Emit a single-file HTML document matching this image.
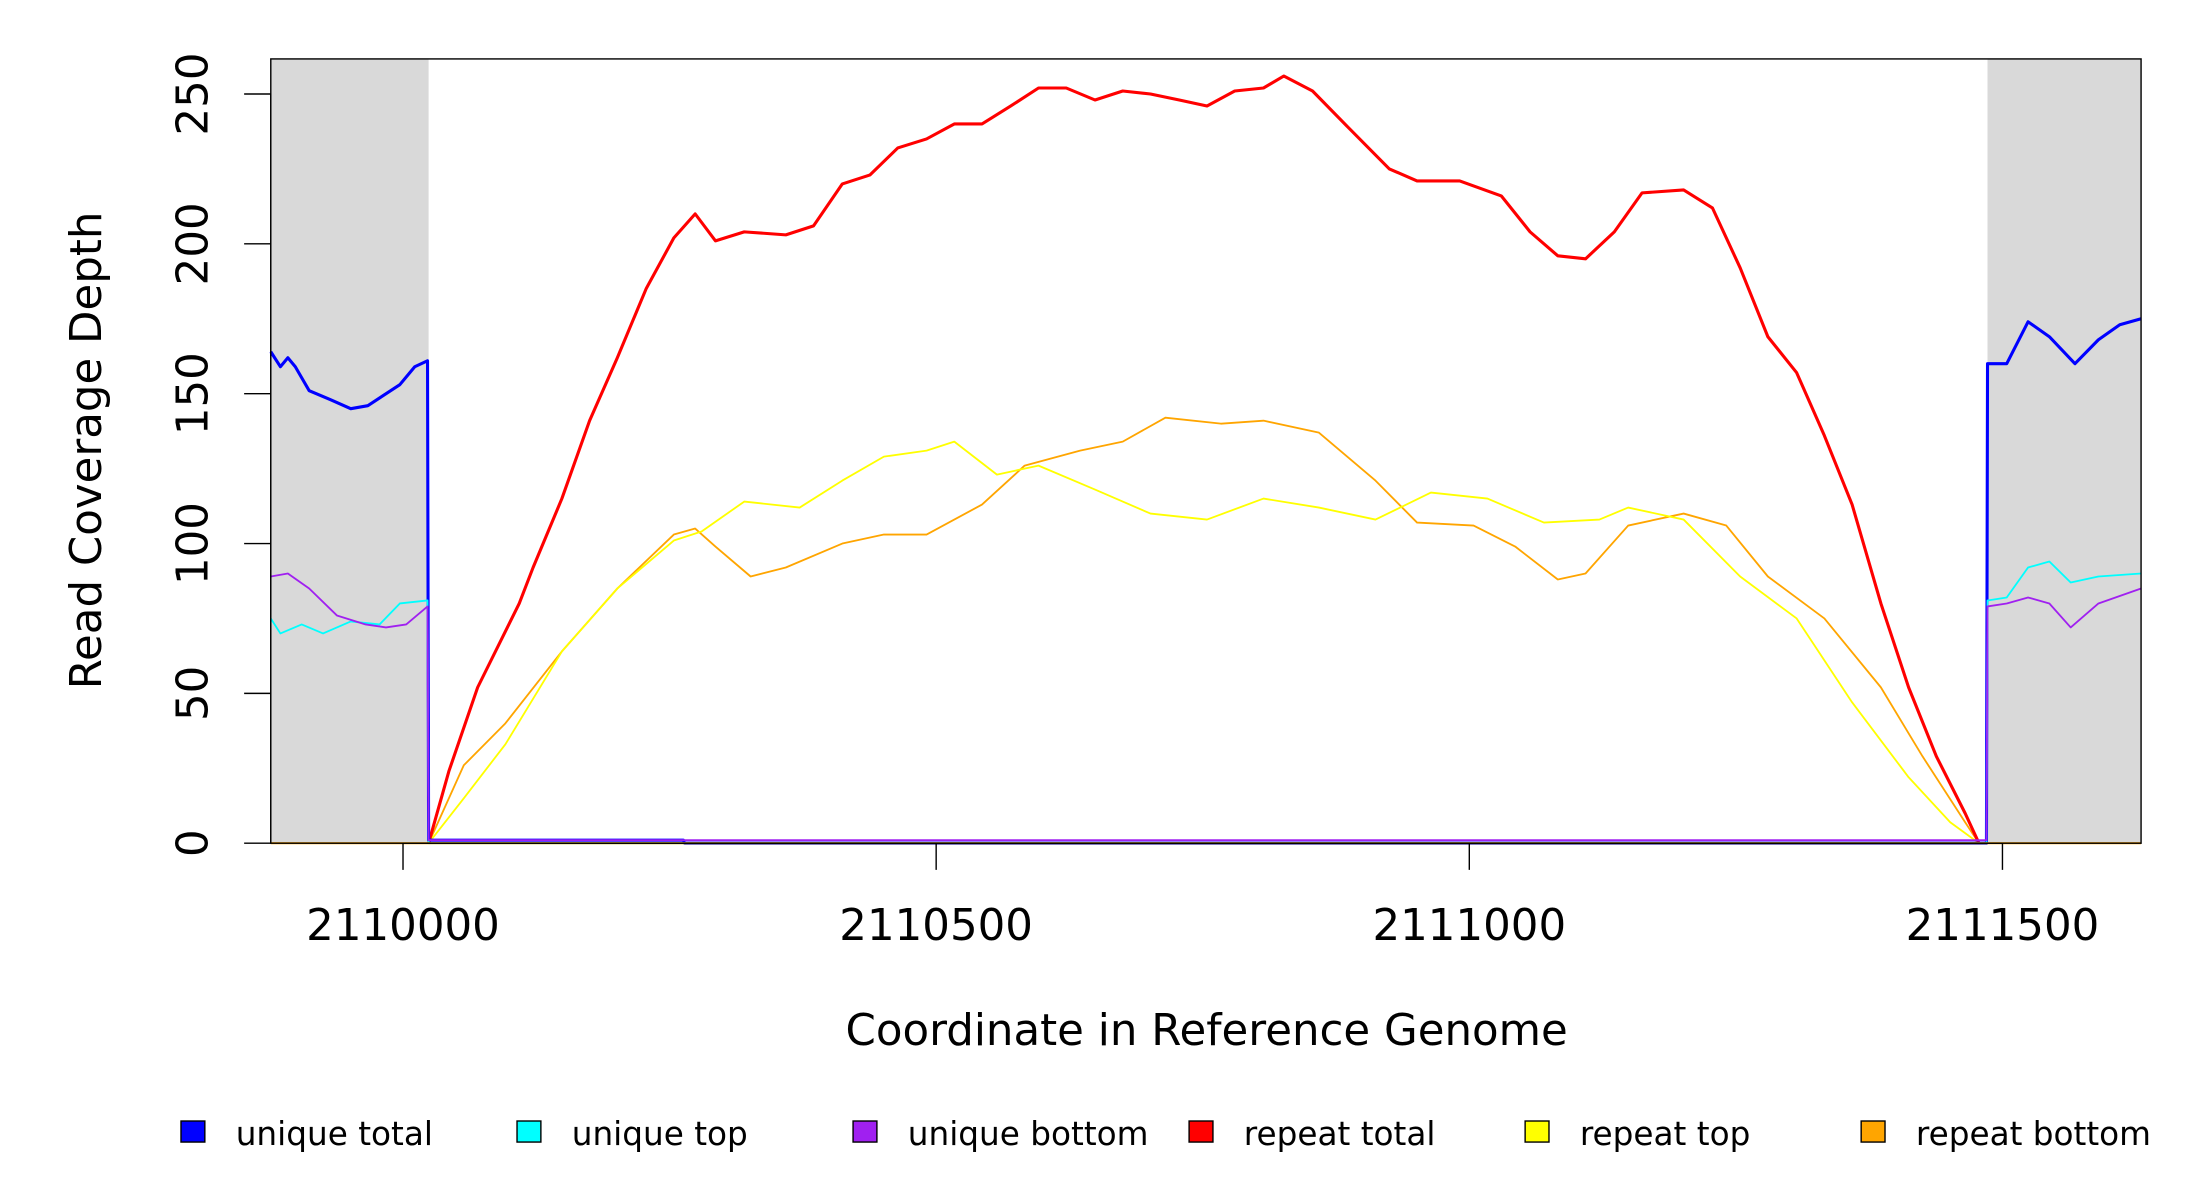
<!DOCTYPE html>
<html><head><meta charset="utf-8"><style>
html,body{margin:0;padding:0;background:#fff;}
svg{display:block;font-family:"DejaVu Sans","Liberation Sans",sans-serif;}
</style></head><body>
<svg id="chart" width="2200" height="1200" viewBox="0 0 1568 855.3" preserveAspectRatio="none" xmlns="http://www.w3.org/2000/svg">
<g id="bg"></g>
<g id="series"></g>
<rect x="193" y="42" width="1333" height="559" fill="none" stroke="#000" stroke-width="1"/>
<g id="axes"></g>
<text transform="translate(72,321) rotate(-90)" text-anchor="middle" font-size="31">Read Coverage Depth</text>
<text x="860" y="745" text-anchor="middle" font-size="31">Coordinate in Reference Genome</text>
<g id="legend"></g>
</svg>
<script>
const NS="http://www.w3.org/2000/svg";
const xTicks=[2110000,2110500,2111000,2111500];
const yTicks=[0,50,100,150,200,250];
const shaded=[[2109876,2110024],[2111486,2111630]];
const legendLabels=["unique total","unique top","unique bottom","repeat total","repeat top","repeat bottom"];
const legendColors=["#0000ff","#00ffff","#a020f0","#ff0000","#ffff00","#ffa500"];
// offsets from 2110000
const redX=[24,43,70,109,122,149,175,201,228,254,274,293,320,359,385,412,438,464,491,517,543,570,596,622,649,675,701,728,754,780,807,826,853,886,925,951,991,1030,1057,1083,1109,1136,1162,1201,1228,1254,1280,1307,1333,1359,1386,1412,1438,1465,1478];
const redY=[0,24,52,80,92,115,141,162,185,202,210,201,204,203,206,220,223,232,235,240,240,246,252,252,248,251,250,248,246,251,252,256,251,239,225,221,221,216,204,196,195,204,217,218,212,192,169,157,136,113,80,52,29,10,0];
const yelX=[24,57,96,149,201,254,280,320,372,412,451,491,517,557,596,649,701,754,807,859,912,964,1017,1070,1122,1149,1201,1254,1307,1359,1412,1451,1478];
const yelY=[0,15,33,64,85,101,104,114,112,121,129,131,134,123,126,118,110,108,115,112,108,117,115,107,108,112,108,89,75,47,22,7,0];
const orX=[24,57,96,149,201,254,274,293,326,359,412,451,491,543,583,635,675,715,767,807,859,912,951,1004,1043,1083,1109,1149,1201,1241,1280,1333,1386,1425,1465,1478];
const orY=[0,26,40,64,85,103,105,99,89,92,100,103,103,113,126,131,134,142,140,141,137,121,107,106,99,88,90,106,110,106,89,75,52,29,7,0];
const blueX=[-124,-115,-108,-101,-88,-68,-49,-33,-3,11,23,24,263,264,1485,1486,1504,1524,1544,1568,1590,1610,1630];
const blueY=[164,159,162,159,151,148,145,146,153,159,161,1,1,0,0,160,160,174,169,160,168,173,175];
const cyanX=[-124,-115,-95,-75,-49,-22,-3,23,24,1485,1486,1504,1524,1544,1564,1590,1630];
const cyanY=[75,70,73,70,74,73,80,81,0,0,81,82,92,94,87,89,90];
const purX=[-124,-108,-88,-62,-35,-16,3,23,24,1485,1486,1504,1524,1544,1564,1590,1630];
const purY=[89,90,85,76,73,72,73,79,1,1,79,80,82,80,72,80,85];
const X0=2109876,X1=2111630,PX0=193,PX1=1526,PY0=601,PY1=67;
const sx=v=>PX0+(v-X0)/(X1-X0)*(PX1-PX0);
const sy=v=>PY0-(v/250)*(PY0-PY1);
function mk(t,a,p){const e=document.createElementNS(NS,t);for(const k in a)e.setAttribute(k,a[k]);p.appendChild(e);return e;}
const bg=document.getElementById('bg');
shaded.forEach(r=>{const e=mk('rect',{x:sx(r[0]),y:42,width:sx(r[1])-sx(r[0]),height:559,fill:'#d9d9d9'},bg);

});
const sg=document.getElementById('series');
function line(xs,ys,col,w,name){const pts=xs.map((x,i)=>sx(2110000+x)+','+sy(ys[i])).join(' ');
const e=mk('polyline',{points:pts,fill:'none',stroke:col,'stroke-width':w,'stroke-linejoin':'round'},sg);

}
line(orX,orY,'#ffa500',1.3,'repeat-bottom-line');
line(yelX,yelY,'#ffff00',1.3,'repeat-top-line');
line(redX,redY,'#ff0000',2.2,'repeat-total-line');
line(blueX,blueY,'#0000ff',2.2,'unique-total-line');
line(cyanX,cyanY,'#00ffff',1.3,'unique-top-line');
line(purX,purY,'#a020f0',1.3,'unique-bottom-line');
mk('line',{x1:193,x2:1526,y1:sy(0),y2:sy(0),stroke:'#ffa500','stroke-width':1.5},sg);
const ax=document.getElementById('axes');
mk('line',{x1:sx(xTicks[0]),x2:sx(xTicks[xTicks.length-1]),y1:601,y2:601,stroke:'#000'},ax);
xTicks.forEach(t=>{mk('line',{x1:sx(t),x2:sx(t),y1:601,y2:620,stroke:'#000'},ax);
const e=mk('text',{x:sx(t),y:670,'text-anchor':'middle','font-size':31},ax);e.textContent=t;

});
mk('line',{x1:193,x2:193,y1:sy(0),y2:sy(250),stroke:'#000'},ax);
yTicks.forEach(t=>{mk('line',{x1:174,x2:193,y1:sy(t),y2:sy(t),stroke:'#000'},ax);
const e=mk('text',{transform:'translate(148,'+sy(t)+') rotate(-90)','text-anchor':'middle','font-size':31},ax);e.textContent=t;

});
const lg=document.getElementById('legend');
legendLabels.forEach((l,i)=>{const x=129+i*239.5;
const r=mk('rect',{x:x,y:799,width:17,height:15,fill:legendColors[i],stroke:'#000','stroke-width':1},lg);


const t=mk('text',{x:x+39,y:816,'font-size':23.3},lg);t.textContent=l;

});
</script>
</body></html>
